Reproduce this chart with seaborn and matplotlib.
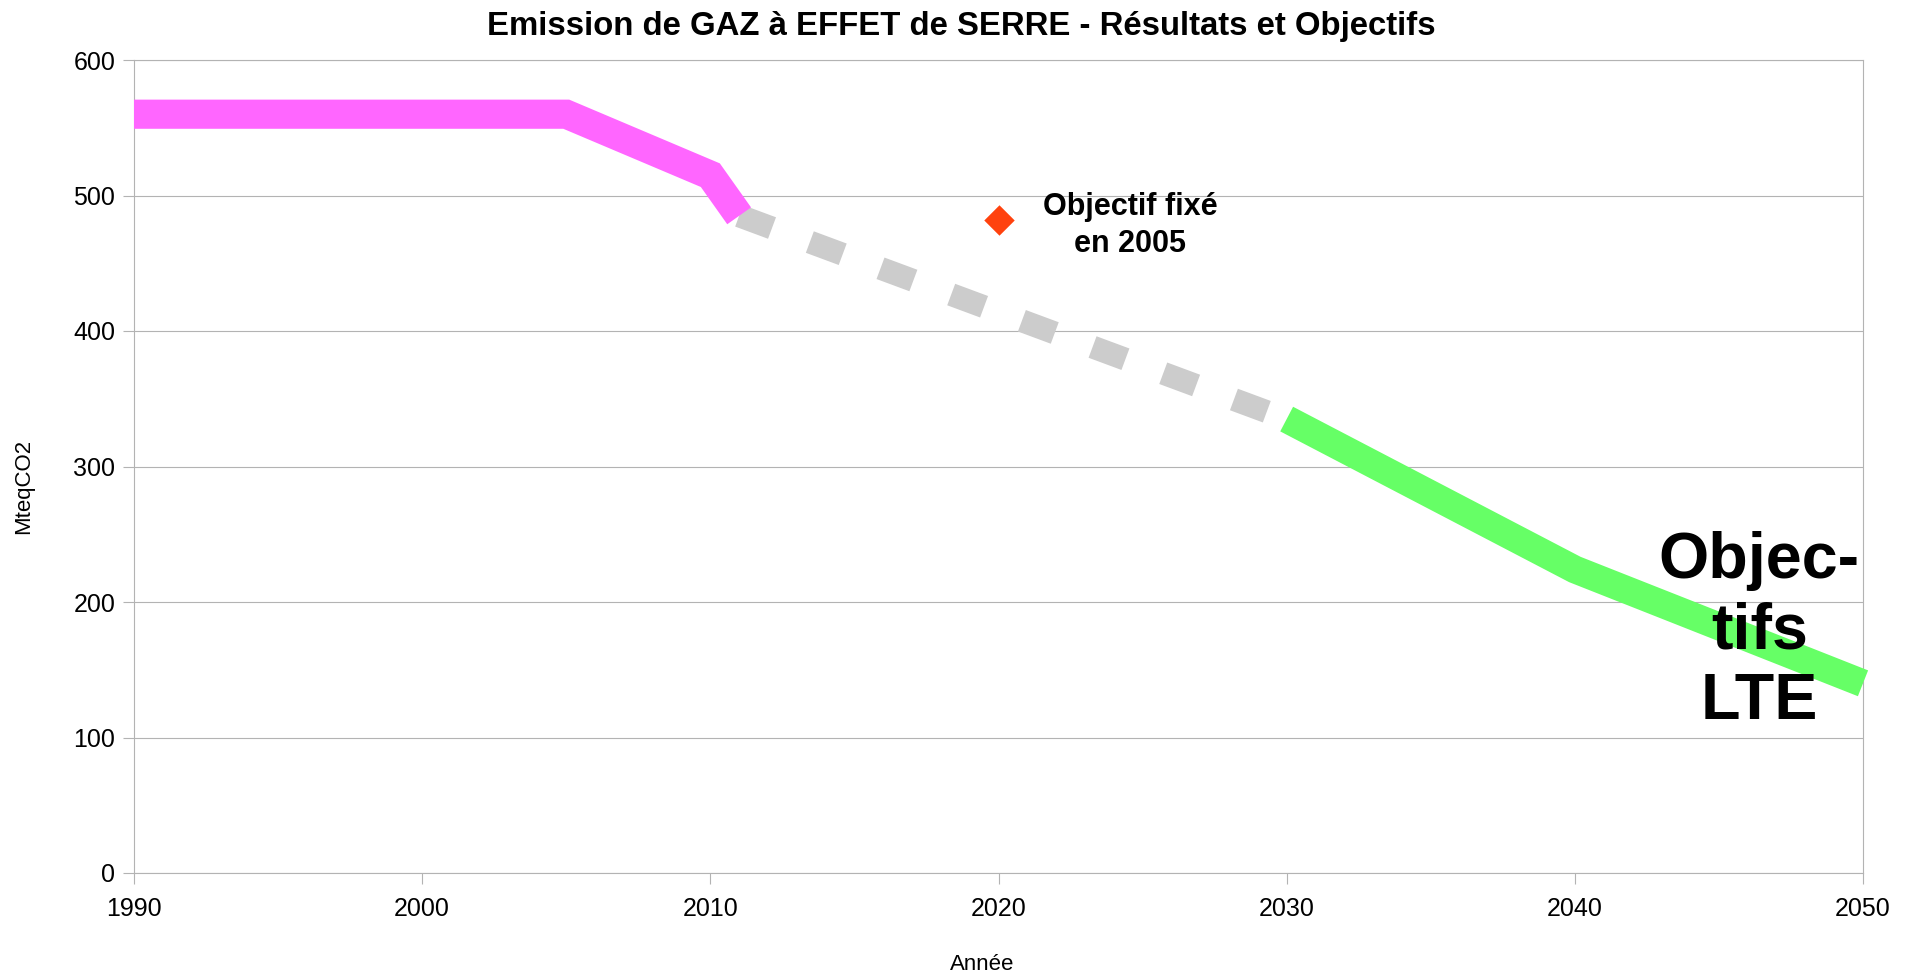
import matplotlib
matplotlib.use("Agg")
import matplotlib.pyplot as plt
import pandas as pd
import seaborn as sns

# Données (MteqCO2)
resultats_annees = [1990, 2005, 2010, 2011]
resultats_valeurs = [560, 560, 515, 485]

tendance_annees = [2011, 2030]
tendance_valeurs = [485, 335]

lte_annees = [2030, 2040, 2050]
lte_valeurs = [335, 224, 140]

objectif_2005_annee = [2020]
objectif_2005_valeur = [482]

GRID = "#b3b3b3"

sns.set_theme(style="whitegrid")
plt.rcParams["font.family"] = ["Liberation Sans", "DejaVu Sans"]
plt.rcParams["text.color"] = "black"

fig = plt.figure(figsize=(19.06, 9.74), dpi=100)
ax = fig.add_axes([134 / 1906, 1 - 873 / 974, 1729 / 1906, 813 / 974])

df_res = pd.DataFrame({"annee": resultats_annees, "val": resultats_valeurs})
df_tend = pd.DataFrame({"annee": tendance_annees, "val": tendance_valeurs})
df_lte = pd.DataFrame({"annee": lte_annees, "val": lte_valeurs})
df_obj = pd.DataFrame({"annee": objectif_2005_annee, "val": objectif_2005_valeur})

sns.lineplot(data=df_res, x="annee", y="val", ax=ax, color="#ff66ff",
             linewidth=21, solid_joinstyle="miter", solid_capstyle="butt",
             estimator=None, clip_on=False, zorder=3)
sns.lineplot(data=df_tend, x="annee", y="val", ax=ax, color="#cccccc",
             linewidth=16.5, linestyle=(0, (1.53, 1.76)), dash_capstyle="butt",
             estimator=None, clip_on=False, zorder=2)
sns.lineplot(data=df_lte, x="annee", y="val", ax=ax, color="#66ff66",
             linewidth=20, solid_joinstyle="miter", solid_capstyle="butt",
             estimator=None, clip_on=False, zorder=3)
sns.scatterplot(data=df_obj, x="annee", y="val", ax=ax, color="#ff420e",
                marker="D", s=240, linewidth=0, zorder=4, clip_on=False)

ax.text(2024.56, 478, "Objectif fixé\nen 2005", ha="center", va="center",
        multialignment="center", fontsize=22, fontweight="bold",
        linespacing=1.3, color="black", zorder=5)
ax.text(2046.4, 178, "Objec-\ntifs\nLTE", ha="center", va="center",
        multialignment="center", fontsize=46.5, fontweight="bold",
        linespacing=1.22, color="black", zorder=5)

ax.set_xlim(1990, 2050)
ax.set_ylim(0, 600)
ax.set_xticks(range(1990, 2051, 10))
ax.set_yticks(range(0, 601, 100))

ax.grid(False)
ax.yaxis.grid(True, color=GRID, linewidth=0.8)
for sp in ax.spines.values():
    sp.set_visible(True)
    sp.set_color(GRID)
    sp.set_linewidth(0.8)

ax.tick_params(axis="both", which="major", length=8, width=0.8, color=GRID,
               labelsize=18, labelcolor="black", direction="out")
ax.tick_params(axis="x", pad=9)
ax.tick_params(axis="y", pad=5.5)
ax.xaxis.set_ticks_position("bottom")
ax.yaxis.set_ticks_position("left")

ax.set_xlabel("Année", fontsize=16, color="black", va="center")
ax.set_ylabel("MteqCO2", fontsize=16, color="black", va="center")
ax.xaxis.set_label_coords(0.4905, -0.112)
ax.yaxis.set_label_coords(-0.0636, 0.476)

fig.text(961 / 1906, 1 - 26 / 974, "Emission de GAZ à EFFET de SERRE - Résultats et Objectifs",
         ha="center", va="center", fontsize=23.7, fontweight="bold", color="black")

fig.savefig("out.png", dpi=100)
